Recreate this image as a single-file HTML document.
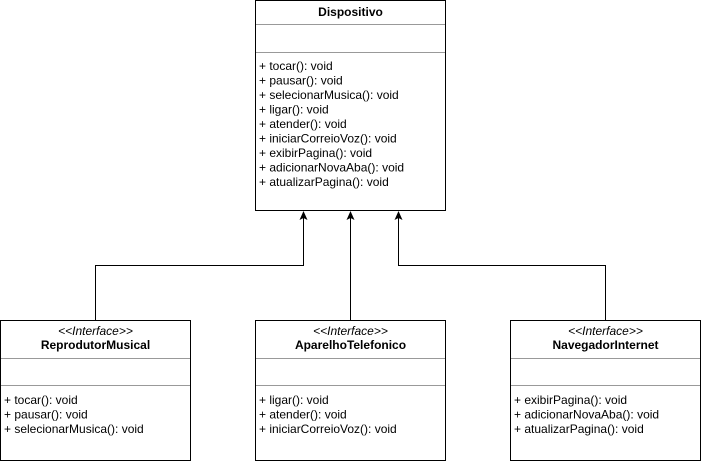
<!DOCTYPE html>
<html><head><style>body{margin:0;background:#fff}svg{display:block}text{font-family:"Liberation Sans",Arial,sans-serif;font-size:12px;fill:#000}</style></head><body>
<svg width="701" height="461" xmlns="http://www.w3.org/2000/svg">
<g fill="none" stroke="#000" stroke-width="1">
<rect x="255.5" y="0.5" width="190" height="210"/>
<rect x="0.5" y="320.5" width="190" height="140"/>
<rect x="255.5" y="320.5" width="190" height="140"/>
<rect x="510.5" y="320.5" width="190" height="140"/>
<polyline points="95.5,320 95.5,265.5 303.5,265.5 303.5,218"/>
<line x1="350.5" y1="320" x2="350.5" y2="218"/>
<polyline points="605.5,320 605.5,265.5 398.5,265.5 398.5,218"/>
</g>
<g stroke="#999" stroke-width="1">
<line x1="256" y1="24.5" x2="445" y2="24.5"/><line x1="256" y1="52.5" x2="445" y2="52.5"/>
<line x1="1" y1="358.5" x2="190" y2="358.5"/><line x1="1" y1="385.5" x2="190" y2="385.5"/>
<line x1="256" y1="358.5" x2="445" y2="358.5"/><line x1="256" y1="385.5" x2="445" y2="385.5"/>
<line x1="511" y1="358.5" x2="700" y2="358.5"/><line x1="511" y1="385.5" x2="700" y2="385.5"/>
</g>
<g fill="#000">
<polygon points="303.5,211 299.5,220 303.5,218 307.5,220"/>
<polygon points="350.5,211 346.5,220 350.5,218 354.5,220"/>
<polygon points="398.5,211 394.5,220 398.5,218 402.5,220"/>
</g>
<text x="350.5" y="16" text-anchor="middle" font-weight="bold">Dispositivo</text>
<g>
<text x="259" y="70">+ tocar(): void</text>
<text x="259" y="84.5">+ pausar(): void</text>
<text x="259" y="99">+ selecionarMusica(): void</text>
<text x="259" y="113.5">+ ligar(): void</text>
<text x="259" y="128">+ atender(): void</text>
<text x="259" y="142.5">+ iniciarCorreioVoz(): void</text>
<text x="259" y="157">+ exibirPagina(): void</text>
<text x="259" y="171.5">+ adicionarNovaAba(): void</text>
<text x="259" y="186">+ atualizarPagina(): void</text>
</g>
<text x="95.5" y="335" text-anchor="middle" font-style="italic">&lt;&lt;Interface&gt;&gt;</text>
<text x="95.5" y="349" text-anchor="middle" font-weight="bold">ReprodutorMusical</text>
<text x="4" y="404">+ tocar(): void</text>
<text x="4" y="418.5">+ pausar(): void</text>
<text x="4" y="433">+ selecionarMusica(): void</text>
<text x="350.5" y="335" text-anchor="middle" font-style="italic">&lt;&lt;Interface&gt;&gt;</text>
<text x="350.5" y="349" text-anchor="middle" font-weight="bold">AparelhoTelefonico</text>
<text x="259" y="404">+ ligar(): void</text>
<text x="259" y="418.5">+ atender(): void</text>
<text x="259" y="433">+ iniciarCorreioVoz(): void</text>
<text x="605.5" y="335" text-anchor="middle" font-style="italic">&lt;&lt;Interface&gt;&gt;</text>
<text x="605.5" y="349" text-anchor="middle" font-weight="bold">NavegadorInternet</text>
<text x="514" y="404">+ exibirPagina(): void</text>
<text x="514" y="418.5">+ adicionarNovaAba(): void</text>
<text x="514" y="433">+ atualizarPagina(): void</text>
</svg>
</body></html>
